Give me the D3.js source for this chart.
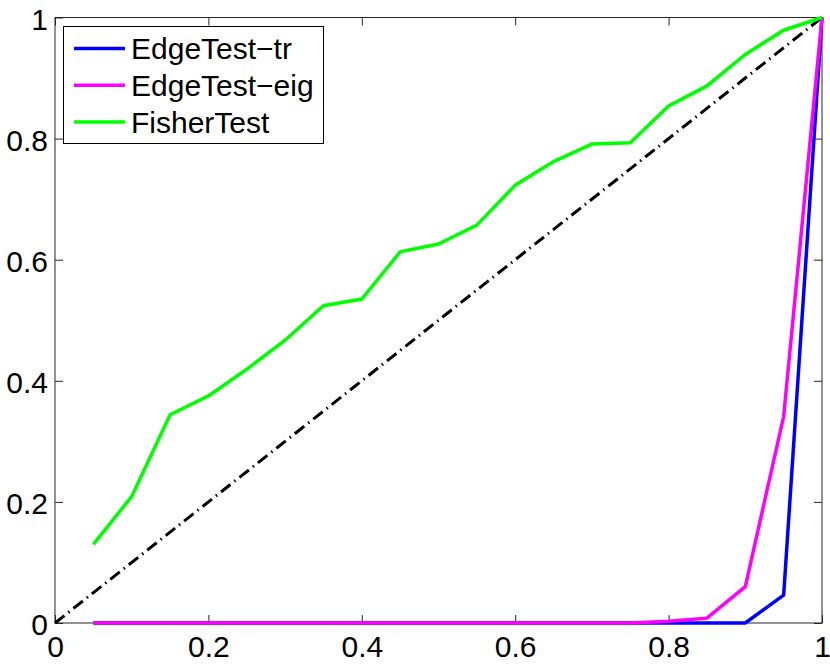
<!DOCTYPE html>
<html><head><meta charset="utf-8">
<script src="https://cdn.jsdelivr.net/npm/d3@7"></script>
<style>
html,body{margin:0;padding:0;background:#fff;}
svg{display:block;font-family:"Liberation Sans",Arial,Helvetica,sans-serif;}
</style></head>
<body><svg id="chart" width="830" height="664"></svg>
<script>
const xValues = [0.05,0.10,0.15,0.20,0.25,0.30,0.35,0.40,0.45,0.50,0.55,0.60,0.65,0.70,0.75,0.80,0.85,0.90,0.95,1.00];
const edgeTestTr  = [0,0,0,0,0,0,0,0,0,0,0,0,0,0,0,0,0,0,0.046,1.0];
const edgeTestEig = [0,0,0,0,0,0,0,0,0,0,0,0,0,0,0,0.003,0.008,0.060,0.341,1.0];
const fisherTest  = [0.130,0.209,0.344,0.375,0.419,0.467,0.524,0.535,0.613,0.626,0.657,0.723,0.762,0.791,0.793,0.854,0.887,0.939,0.979,1.0];
const diagX = [0,1];
const diagY = [0,1];
const seriesNames = ["EdgeTest\u2212tr","EdgeTest\u2212eig","FisherTest"];
const seriesColors = ["#0000ff","#ff00ff","#00ff00"];
const tickValues = [0,0.2,0.4,0.6,0.8,1];
const tickLabels = ["0","0.2","0.4","0.6","0.8","1"];

const L = 55, R = 822, T = 17.5, B = 623;
const svg = d3.select("#chart");
const x = d3.scaleLinear().domain([0,1]).range([L,R]);
const y = d3.scaleLinear().domain([0,1]).range([B,T]);
const fmt = (d,i) => tickLabels[i];

// box
svg.append("rect").attr("x",L).attr("y",T).attr("width",R-L).attr("height",B-T)
  .attr("fill","#fff").attr("stroke","#262626").attr("stroke-width",1);

function styleAxis(g, labels){
  g.select(".domain").remove();
  g.selectAll(".tick line").attr("stroke","#262626").attr("stroke-width",1);
  if(labels){
    g.selectAll(".tick text").attr("fill","#000").style("font-size","30px");
  } else {
    g.selectAll(".tick text").remove();
  }
}
svg.append("g").attr("transform",`translate(0,${B})`)
  .call(d3.axisBottom(x).tickValues(tickValues).tickFormat(fmt).tickSize(-8).tickPadding(13))
  .call(g=>styleAxis(g,true));
svg.append("g").attr("transform",`translate(0,${T})`)
  .call(d3.axisTop(x).tickValues(tickValues).tickSize(-8))
  .call(g=>styleAxis(g,false));
const yl = svg.append("g").attr("transform",`translate(${L},0)`)
  .call(d3.axisLeft(y).tickValues(tickValues).tickFormat(fmt).tickSize(-8).tickPadding(7))
  .call(g=>styleAxis(g,true));
yl.selectAll(".tick text").attr("dy","0.39em");
svg.append("g").attr("transform",`translate(${R},0)`)
  .call(d3.axisRight(y).tickValues(tickValues).tickSize(-8))
  .call(g=>styleAxis(g,false));

const line = d3.line().x(d=>x(d[0])).y(d=>y(d[1]));

// diagonal
svg.append("path").datum(diagX.map((v,i)=>[v,diagY[i]]))
  .attr("d",line).attr("fill","none").attr("stroke","#000")
  .attr("stroke-width",3).attr("stroke-dasharray","12,5,1.5,5");

const allSeries = [edgeTestTr, edgeTestEig, fisherTest];
allSeries.forEach((s,k)=>{
  svg.append("path").datum(xValues.map((v,i)=>[v,s[i]]))
    .attr("d",line).attr("fill","none").attr("stroke",seriesColors[k])
    .attr("stroke-width",3.5).attr("stroke-linejoin","miter");
});

// legend
const lg = svg.append("g");
lg.append("rect").attr("x",63.5).attr("y",26.5).attr("width",260).attr("height",117)
  .attr("fill","#fff").attr("stroke","#000").attr("stroke-width",1);
seriesNames.forEach((n,i)=>{
  const yy = 48.5 + i*36.7;
  lg.append("line").attr("x1",74).attr("x2",125).attr("y1",yy).attr("y2",yy)
    .attr("stroke",seriesColors[i]).attr("stroke-width",3.5);
  lg.append("text").attr("x",131).attr("y",yy).attr("dy","0.36em")
    .style("font-size","30px").attr("fill","#000").text(n);
});
</script></body></html>
